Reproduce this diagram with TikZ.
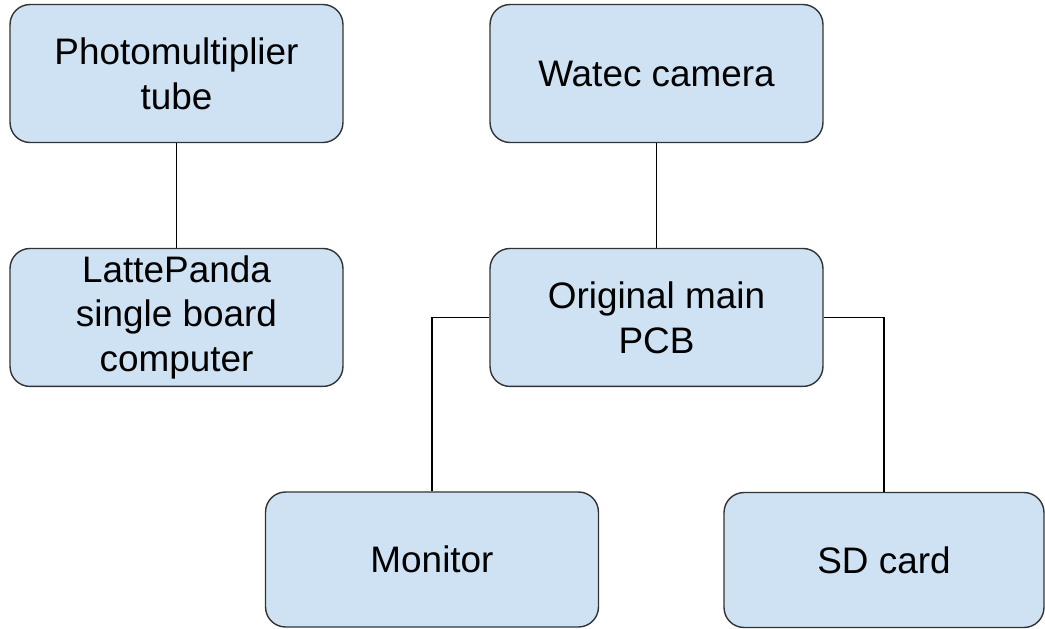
\documentclass[tikz,border=0pt]{standalone}
\usepackage{fontspec}
\setmainfont{Liberation Sans}
\usetikzlibrary{positioning}
\definecolor{boxblue}{HTML}{CFE2F3}

\begin{document}
\begin{tikzpicture}[x=0.02cm,y=-0.02cm]
	\tikzstyle{block}=[rectangle, rounded corners=0.4cm, draw=black!80, line width=0.8pt, fill=boxblue, minimum width=6.66cm, minimum height=2.76cm, align=center, font=\fontsize{21}{25.5}\selectfont, node distance=4.88cm]
	\tikzstyle{link}=[line width=0.8pt, black]
	\useasboundingbox (0,0) rectangle (1045,629);
	  \node[block] (pmt) at (176.5,73.5) {Photomultiplier\\tube};
	  \node[block] (latte) [below of=pmt] {LattePanda\\single board\\computer};
	  \node[block] (watec) at (656.5,73.5) {Watec camera};
	  \node[block] (pcb) [below of=watec] {Original main\\PCB};
	  \node[block, minimum height=2.7cm] (monitor) at (432,559.5) {Monitor};
	  \node[block, minimum width=6.4cm, minimum height=2.7cm] (sd) at (884,560) {SD card};
	  \draw[link] (pmt) -- (latte);
	  \draw[link] (watec) -- (pcb);
	  \draw[link] (pcb.west) -| (monitor.north);
	  \draw[link] (pcb.east) -| (sd.north);
\end{tikzpicture}
\end{document}
